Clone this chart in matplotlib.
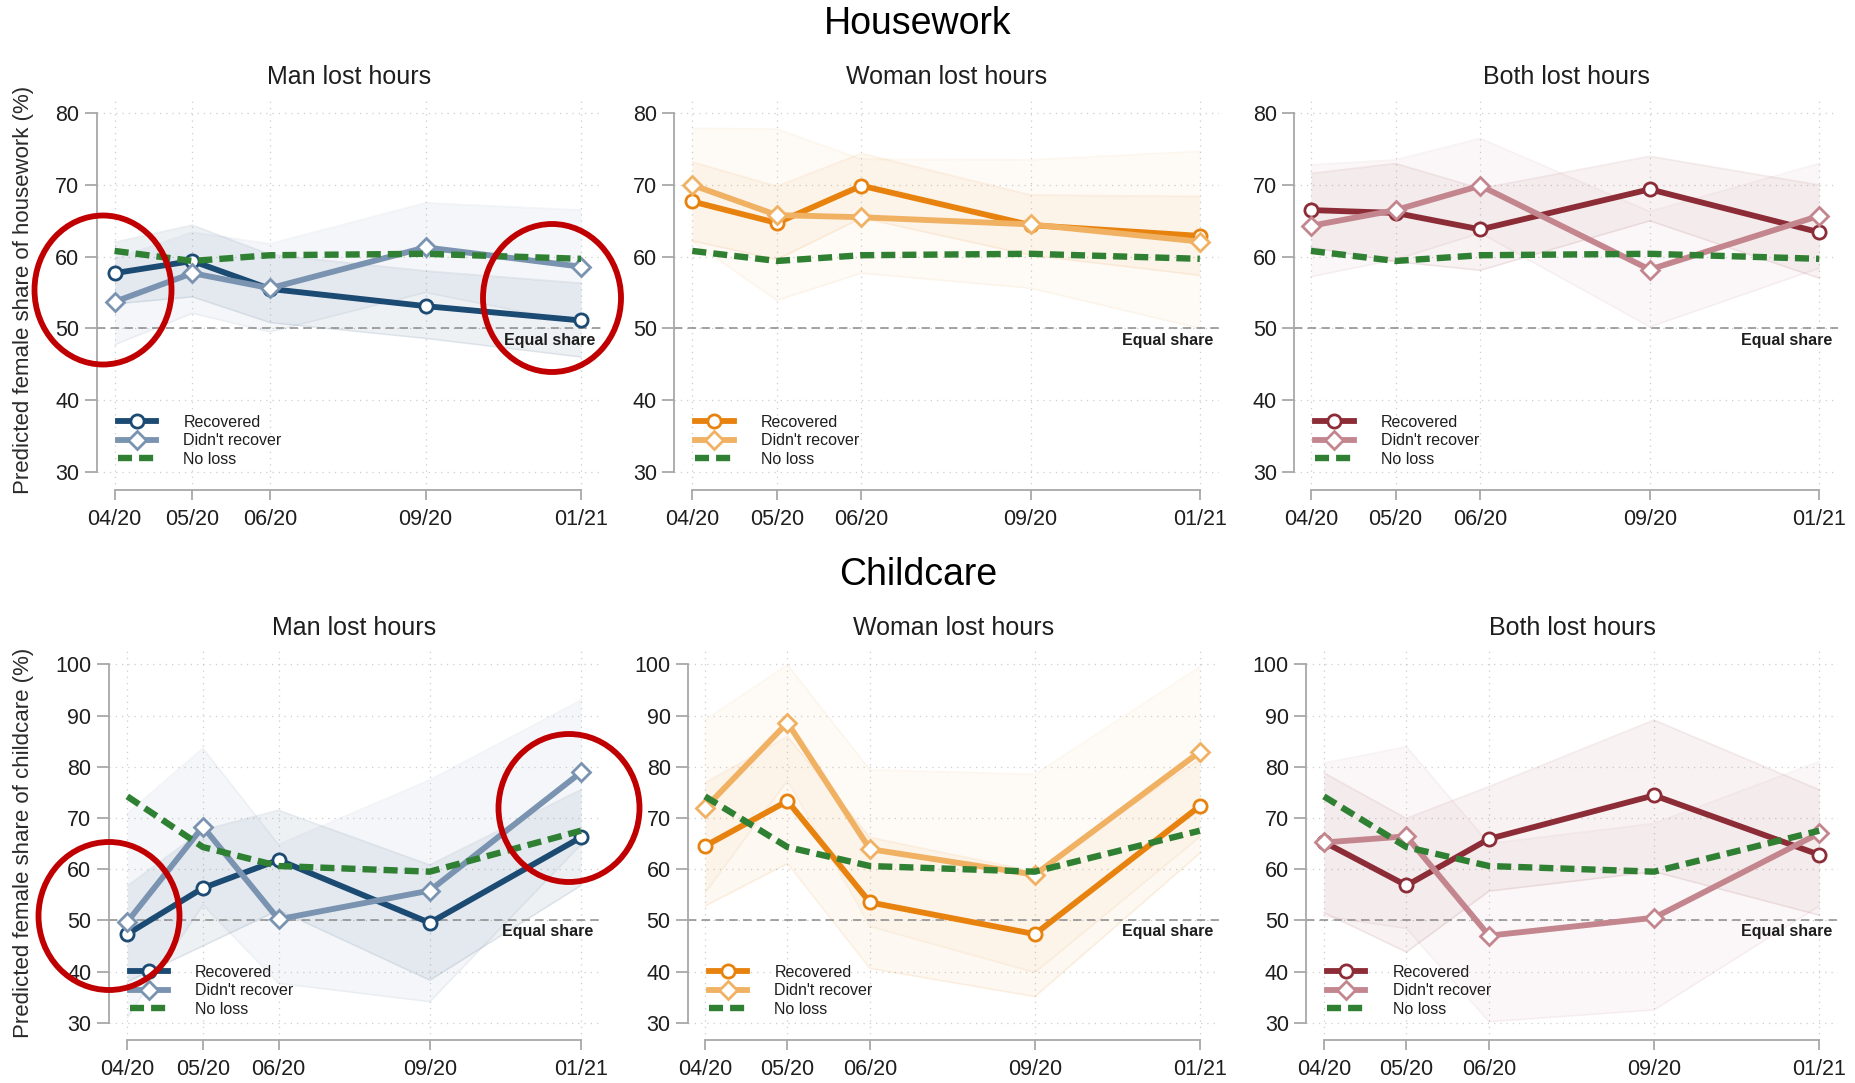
import matplotlib
matplotlib.use("Agg")
import matplotlib.pyplot as plt
import matplotlib.transforms as mtransforms
from matplotlib.patches import Ellipse

plt.rcParams['font.family'] = ['Liberation Sans', 'DejaVu Sans']

W, H, DPI = 1855, 1083, 100

# ---- data -------------------------------------------------------------
waves = ['04/20', '05/20', '06/20', '09/20', '01/21']
wave_pos = [0, 1, 2, 4, 6]
panel_titles = ['Man lost hours', 'Woman lost hours', 'Both lost hours']
legend_labels = ['Recovered', "Didn't recover", 'No loss']

# Housework: predicted female share (%) with 95% CI
hw_no_loss = [60.8, 59.4, 60.2, 60.4, 59.7]

hw_man_rec = [57.7, 59.4, 55.5, 53.1, 51.1]
hw_man_rec_lo = [53.4, 54.4, 50.8, 48.6, 46.0]
hw_man_rec_hi = [62.0, 64.4, 60.3, 58.0, 56.3]
hw_man_not = [53.7, 57.7, 55.6, 61.3, 58.6]
hw_man_not_lo = [47.7, 52.1, 49.5, 55.0, 50.7]
hw_man_not_hi = [59.7, 63.4, 61.8, 67.5, 66.5]

hw_woman_rec = [67.7, 64.7, 69.9, 64.4, 62.9]
hw_woman_rec_lo = [62.2, 59.6, 65.4, 60.2, 57.4]
hw_woman_rec_hi = [73.2, 69.8, 74.4, 68.6, 68.4]
hw_woman_not = [70.0, 65.8, 65.5, 64.5, 62.1]
hw_woman_not_lo = [62.1, 53.9, 57.7, 55.6, 50.0]
hw_woman_not_hi = [77.9, 77.8, 73.6, 73.5, 74.7]

hw_both_rec = [66.5, 66.1, 63.8, 69.4, 63.4]
hw_both_rec_lo = [61.3, 59.3, 58.1, 65.0, 57.0]
hw_both_rec_hi = [71.6, 73.0, 69.5, 74.0, 70.0]
hw_both_not = [64.3, 66.5, 69.9, 58.2, 65.7]
hw_both_not_lo = [57.2, 59.6, 63.3, 50.2, 58.4]
hw_both_not_hi = [72.8, 73.5, 76.5, 66.3, 73.0]

# Childcare: predicted female share (%) with 95% CI
cc_no_loss = [74.2, 64.3, 60.6, 59.5, 67.5]

cc_man_rec = [47.3, 56.3, 61.8, 49.5, 66.2]
cc_man_rec_lo = [38.0, 45.0, 52.0, 38.3, 56.8]
cc_man_rec_hi = [56.7, 67.6, 71.5, 60.8, 75.5]
cc_man_not = [49.7, 68.3, 50.2, 55.8, 78.9]
cc_man_not_lo = [31.0, 53.0, 37.7, 34.1, 64.8]
cc_man_not_hi = [70.9, 83.6, 64.8, 77.4, 93.0]

cc_woman_rec = [64.5, 73.3, 53.5, 47.3, 72.3]
cc_woman_rec_lo = [52.8, 61.1, 40.6, 35.1, 63.1]
cc_woman_rec_hi = [76.8, 85.9, 66.2, 59.5, 81.5]
cc_woman_not = [71.9, 88.6, 63.9, 58.9, 82.9]
cc_woman_not_lo = [55.3, 77.3, 48.8, 39.8, 66.3]
cc_woman_not_hi = [89.1, 99.9, 79.4, 78.5, 99.5]

cc_both_rec = [65.3, 56.8, 65.9, 74.4, 62.8]
cc_both_rec_lo = [51.5, 43.8, 55.7, 59.5, 51.0]
cc_both_rec_hi = [78.8, 69.9, 76.1, 89.1, 75.5]
cc_both_not = [65.2, 66.4, 47.0, 50.5, 67.0]
cc_both_not_lo = [50.8, 48.4, 30.2, 32.5, 52.8]
cc_both_not_hi = [80.7, 83.9, 65.0, 68.9, 81.0]

hw_yticks = [30, 40, 50, 60, 70, 80]
cc_yticks = [30, 40, 50, 60, 70, 80, 90, 100]

# ---- styling ----------------------------------------------------------
colors = {
    'man': ('#1b4a73', '#7a93b0'),
    'woman': ('#e8820e', '#f0b162'),
    'both': ('#8c2c37', '#c4868e'),
}
band_alpha = {'man': 0.075, 'woman': 0.055, 'both': 0.06}
GREEN = '#2f8032'
AXIS_GREY = '#a8a8a8'
TEXT = '#1e1e1e'
LW = 4.2

fig = plt.figure(figsize=(W / DPI, H / DPI), dpi=DPI)

# pixel frames of each panel: (left spine, first wave, last wave, right edge)
col_frames_hw = [(96.8, 114.6, 581.0, 600.8),
                 (674.2, 692.3, 1199.8, 1218.8),
                 (1294.3, 1310.9, 1819.2, 1837.8)]
col_frames_cc = [(108.7, 127.3, 581.0, 598.8),
                 (688.0, 705.0, 1199.8, 1218.8),
                 (1306.1, 1323.9, 1819.2, 1837.8)]
# rows: (top px, bottom px, px of top tick, px of bottom tick, top tick, bottom tick)
row_hw = (98.0, 490.0, 113.3, 471.7, 80, 30)
row_cc = (648.0, 1040.0, 664.3, 1022.7, 100, 30)


def make_axes(frame, row):
    L, x0, x6, R = frame
    T, B, yhp, ylp, yhv, ylv = row
    ax = fig.add_axes([L / W, 1 - B / H, (R - L) / W, (B - T) / H])
    span = wave_pos[-1] - wave_pos[0]
    u = (x6 - x0) / span
    ax.set_xlim(wave_pos[0] + (L - x0) / u, wave_pos[0] + (R - x0) / u)
    ppu = (ylp - yhp) / (yhv - ylv)
    ax.set_ylim(ylv - (B - ylp) / ppu, yhv + (yhp - T) / ppu)
    return ax


def draw_panel(ax, key, rec, rec_lo, rec_hi, nr, nr_lo, nr_hi, noloss, yticks):
    c_rec, c_nr = colors[key]
    ax.set_facecolor('white')
    for s in ['top', 'right']:
        ax.spines[s].set_visible(False)
    for s in ['left', 'bottom']:
        ax.spines[s].set_color(AXIS_GREY)
        ax.spines[s].set_linewidth(1.3)
    ax.spines['left'].set_bounds(yticks[0], yticks[-1])
    ax.spines['bottom'].set_bounds(wave_pos[0], wave_pos[-1])

    ax.set_yticks(yticks)
    ax.set_xticks(wave_pos)
    ax.set_xticklabels(waves)
    ax.tick_params(axis='y', length=8.5, width=1.3, color=AXIS_GREY, pad=4,
                   labelsize=15.5, labelcolor=TEXT)
    ax.tick_params(axis='x', length=7, width=1.3, color=AXIS_GREY, pad=7,
                   labelsize=15.5, labelcolor=TEXT)
    ax.grid(True, linestyle=(0, (1, 4)), color='#cdcdcd', linewidth=0.9)
    ax.set_axisbelow(True)

    # confidence bands
    a = band_alpha[key]
    for lo, hi, c in [(nr_lo, nr_hi, c_nr), (rec_lo, rec_hi, c_rec)]:
        ax.fill_between(wave_pos, lo, hi, color=c, alpha=a, linewidth=0, zorder=1)
        ax.plot(wave_pos, lo, color=c, alpha=0.09, lw=1.2, zorder=1)
        ax.plot(wave_pos, hi, color=c, alpha=0.09, lw=1.2, zorder=1)

    # equal-share reference
    ax.axhline(50, color='#8a8a8a', lw=1.1, linestyle=(0, (5.5, 3.5)), zorder=2)
    trans = mtransforms.blended_transform_factory(ax.transAxes, ax.transData)
    ax.annotate('Equal share', xy=(1, 50), xycoords=trans, xytext=(-4, -3),
                textcoords='offset points', ha='right', va='top',
                fontsize=11.5, fontweight='bold', color=TEXT, zorder=5)

    l1, = ax.plot(wave_pos, rec, color=c_rec, lw=LW, marker='o', ms=9.5,
                  mfc='white', mec=c_rec, mew=2.0, zorder=4)
    l2, = ax.plot(wave_pos, nr, color=c_nr, lw=LW, marker='D', ms=9.0,
                  mfc='white', mec=c_nr, mew=2.0, zorder=4)
    l3, = ax.plot(wave_pos, noloss, color=GREEN, lw=4.6,
                  linestyle=(0, (2.2, 1.1)), zorder=4.5)

    axw = ax.get_position().width * W
    axh = ax.get_position().height * H
    ax.legend([l1, l2, l3], legend_labels, loc='lower left',
              bbox_to_anchor=(21 / axw, 23 / axh), frameon=False, fontsize=11.5,
              handlelength=2.4, handletextpad=1.7, labelspacing=0.22,
              borderpad=0, borderaxespad=0, labelcolor=TEXT)


hw_sets = [
    ('man', hw_man_rec, hw_man_rec_lo, hw_man_rec_hi, hw_man_not, hw_man_not_lo, hw_man_not_hi),
    ('woman', hw_woman_rec, hw_woman_rec_lo, hw_woman_rec_hi, hw_woman_not, hw_woman_not_lo, hw_woman_not_hi),
    ('both', hw_both_rec, hw_both_rec_lo, hw_both_rec_hi, hw_both_not, hw_both_not_lo, hw_both_not_hi),
]
cc_sets = [
    ('man', cc_man_rec, cc_man_rec_lo, cc_man_rec_hi, cc_man_not, cc_man_not_lo, cc_man_not_hi),
    ('woman', cc_woman_rec, cc_woman_rec_lo, cc_woman_rec_hi, cc_woman_not, cc_woman_not_lo, cc_woman_not_hi),
    ('both', cc_both_rec, cc_both_rec_lo, cc_both_rec_hi, cc_both_not, cc_both_not_lo, cc_both_not_hi),
]

for frames, row, sets, noloss, yt, title_y in [
        (col_frames_hw, row_hw, hw_sets, hw_no_loss, hw_yticks, 77),
        (col_frames_cc, row_cc, cc_sets, cc_no_loss, cc_yticks, 628)]:
    for frame, s, ptitle in zip(frames, sets, panel_titles):
        ax = make_axes(frame, row)
        draw_panel(ax, s[0], *s[1:], noloss, yt)
        cx = (frame[0] + frame[3]) / 2
        fig.text(cx / W, 1 - title_y / H, ptitle, ha='center', va='center',
                 fontsize=18, color=TEXT)

# section headings and y-axis titles
fig.text(918 / W, 1 - 24 / H, 'Housework', ha='center', va='center', fontsize=27, color='black')
fig.text(918 / W, 1 - 575 / H, 'Childcare', ha='center', va='center', fontsize=27, color='black')
fig.text(24 / W, 1 - 290 / H, 'Predicted female share of housework (%)', rotation=90,
         ha='center', va='center', fontsize=16, color='#2a2a2a')
fig.text(24 / W, 1 - 843 / H, 'Predicted female share of childcare (%)', rotation=90,
         ha='center', va='center', fontsize=16, color='#2a2a2a')

# highlight rings on the "Man lost hours" panels
ov = fig.add_axes([0, 0, 1, 1], zorder=10)
ov.set_xlim(0, W)
ov.set_ylim(H, 0)
ov.axis('off')
ov.patch.set_alpha(0)
for (cx, cy, ew, eh) in [(103, 290, 137, 149), (552, 298, 138, 148),
                         (109, 916, 141, 148), (569, 808, 141, 148)]:
    ov.add_patch(Ellipse((cx, cy), ew, eh, fill=False, ec='#c00000', lw=4.2))

fig.savefig('out.png', dpi=DPI, facecolor='white')
